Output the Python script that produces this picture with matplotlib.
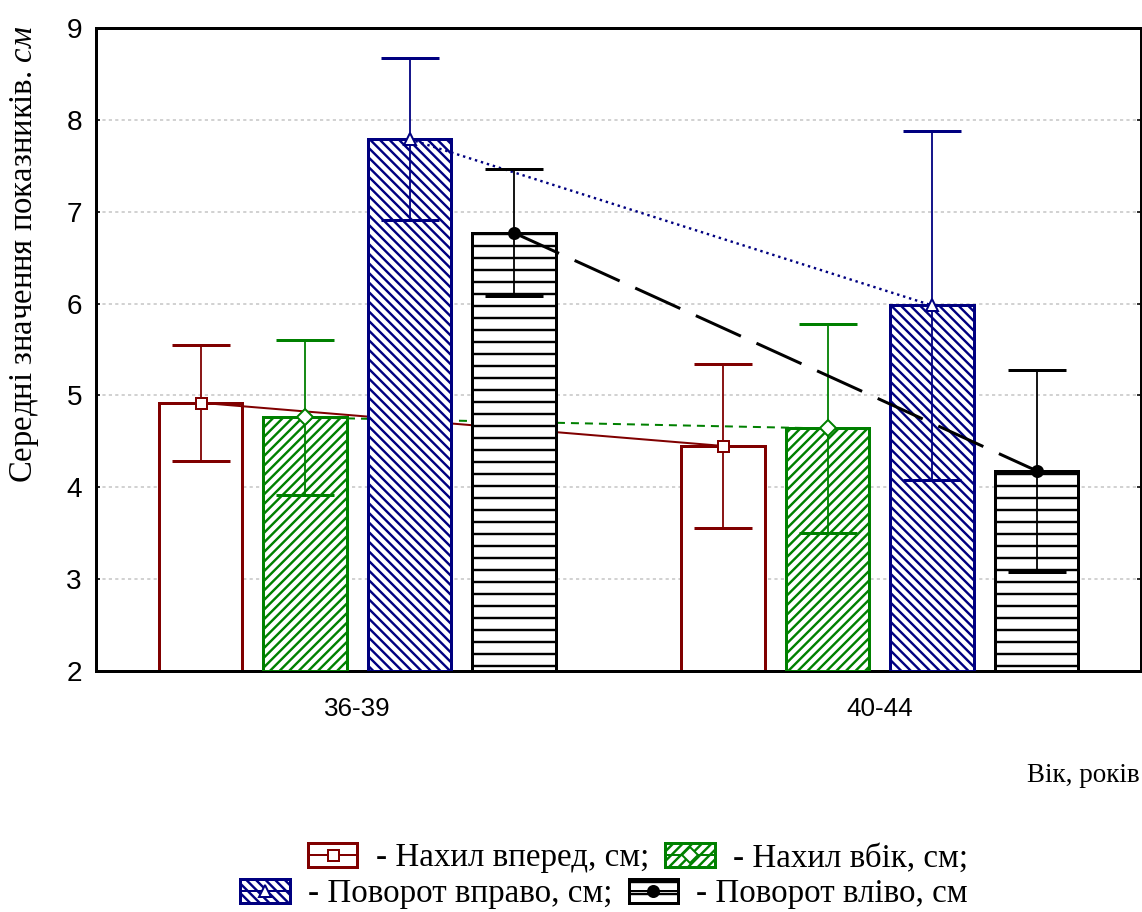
import matplotlib
matplotlib.use('Agg')
import matplotlib.pyplot as plt
import numpy as np
from matplotlib.patches import Patch
from matplotlib.lines import Line2D
from matplotlib.legend_handler import HandlerTuple

# ---- data ----
groups = ['36-39', '40-44']
series_names = ['Нахил вперед, см;', 'Нахил вбік, см;', 'Поворот вправо, см;', 'Поворот вліво, см']
fwd_mean = [4.92, 4.45]
fwd_err = [0.63, 0.89]
side_mean = [4.76, 4.64]
side_err = [0.84, 1.14]
right_mean = [7.79, 5.98]
right_err = [0.88, 1.90]
left_mean = [6.77, 4.18]
left_err = [0.69, 1.10]
y_ticks = [2, 3, 4, 5, 6, 7, 8, 9]
y_label = 'Середні значення показників. $\\mathit{см}$'
x_label = 'Вік, років'

plt.rcParams['mathtext.fontset'] = 'custom'
plt.rcParams['mathtext.rm'] = 'Liberation Serif'
plt.rcParams['mathtext.it'] = 'Liberation Serif:italic'
plt.rcParams['hatch.linewidth'] = 1.2

DPI = 144
W, H = 1142, 912
fig = plt.figure(figsize=(W / DPI, H / DPI), dpi=DPI)
ax = fig.add_axes([96 / W, 1 - 671 / H, (1141 - 96) / W, (671 - 28) / H])

means = [fwd_mean, side_mean, right_mean, left_mean]
errs = [fwd_err, side_err, right_err, left_err]
colors = ['#800000', '#008000', '#000080', '#000000']
hatches = [None, '/////', '\\\\\\\\\\', '--']
offsets = [-0.3, -0.1, 0.1, 0.3]
width = 0.16
linestyles = ['-', (0, (4, 3)), (0, (1, 1.6)), (0, (16.5, 5.7))]
linewidths = [1.0, 1.0, 1.2, 1.5]
markers = ['s', 'D', '^', 'o']
mfcs = ['white', 'white', 'white', 'black']
msizes = [5.5, 5.5, 6, 5.5]
base = y_ticks[0]

x = np.arange(len(groups))
for i in range(4):
    z = 2 + i
    m = np.array(means[i])
    ax.bar(x + offsets[i], m - base, width, bottom=base, facecolor='white',
           edgecolor=colors[i], hatch=hatches[i], linewidth=1.5, zorder=z)
    ax.plot(x + offsets[i], m, linestyle=linestyles[i], color=colors[i],
            lw=linewidths[i], zorder=z + 0.3)
    ax.errorbar(x + offsets[i], m, yerr=errs[i], fmt='none', ecolor=colors[i],
                elinewidth=0.9, capsize=14.5, capthick=1.5, zorder=z + 0.5)
    ax.plot(x + offsets[i], m, linestyle='none', marker=markers[i], mfc=mfcs[i],
            mec=colors[i], ms=msizes[i], mew=1.0, zorder=z + 0.6)

ax.set_xlim(-0.5, 1.5)
ax.set_ylim(2, 9)
ax.set_yticks(y_ticks)
ax.set_xticks(x)
ax.set_xticklabels(groups)
ax.yaxis.grid(True, color='#c8c8c8', linestyle=(0, (2, 2)), lw=0.8)
ax.set_axisbelow(True)
for s in ax.spines.values():
    s.set_linewidth(1.5)
    s.set_color('black')
ax.tick_params(axis='y', direction='in', length=2, right=True, labelsize=14, pad=7)
ax.tick_params(axis='x', length=0, labelsize=13, pad=13)
for lab in ax.get_xticklabels() + ax.get_yticklabels():
    lab.set_family('Liberation Sans')

fig.text(25 / W, 1 - 254 / H, y_label, rotation=90, ha='center', va='center',
         family='Liberation Serif', fontsize=16.3)
fig.text(1140 / W, 1 - 775 / H, x_label, ha='right', va='center',
         family='Liberation Serif', fontsize=13.5)

handles = []
for i in range(4):
    p = Patch(facecolor='white', edgecolor=colors[i], hatch=hatches[i], linewidth=1.5)
    l = Line2D([], [], color=colors[i], lw=1.0, marker=markers[i], mfc=mfcs[i],
               mec=colors[i], ms=msizes[i])
    handles.append((p, l))
labels = ['- ' + s for s in series_names]

common = dict(frameon=False, prop={'family': 'Liberation Serif', 'size': 16.5},
              handlelength=1.5, handleheight=0.75, handletextpad=0.55,
              columnspacing=0.5, borderpad=0, borderaxespad=0, ncol=2,
              loc='center right', handler_map={tuple: HandlerTuple(ndivide=1)})
fig.legend(handles[:2], labels[:2], bbox_to_anchor=(968 / W, 1 - 858 / H), **common)
fig.legend(handles[2:], labels[2:], bbox_to_anchor=(968 / W, 1 - 894 / H), **common)

fig.savefig('out.png', dpi=DPI)
